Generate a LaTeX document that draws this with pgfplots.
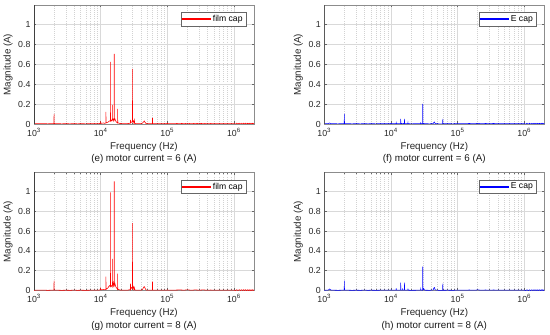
\documentclass[border=0pt]{standalone}
\usepackage{fontspec}
\setmainfont{Liberation Sans}
\usepackage{pgfplots}
\usepackage{pgfplotstable}
\pgfplotsset{compat=1.18}
\definecolor{filmred}{RGB}{255,0,0}
\definecolor{legred}{RGB}{255,80,80}
\definecolor{ecapblue}{RGB}{0,0,255}
\definecolor{legblue}{RGB}{80,80,255}

\pgfplotstableread{
f m
1000 0.002
1100 0.004
1200 0.003
1400 0.004
1600 0.002
1800 0.003
1990 0.004
2000 0.10
2010 0.004
2300 0.003
2600 0.002
3000 0.003
3500 0.002
4000 0.004
4500 0.002
5000 0.003
6000 0.002
7000 0.003
8000 0.004
9000 0.003
9900 0.006
10000 0.02
10100 0.006
11000 0.01
11500 0.006
11950 0.01
12000 0.12
12050 0.01
12500 0.015
13000 0.02
13500 0.03
13950 0.03
14000 0.62
14050 0.03
14400 0.04
14700 0.03
14950 0.04
15000 0.19
15050 0.04
15400 0.05
15700 0.03
15950 0.04
16000 0.70
16050 0.04
16400 0.05
16800 0.03
17200 0.02
17950 0.01
18000 0.15
18050 0.01
18500 0.01
19500 0.005
21000 0.004
23000 0.003
25000 0.004
27000 0.006
27800 0.01
28000 0.04
28200 0.01
29000 0.02
29950 0.02
30000 0.55
30050 0.02
31000 0.03
31500 0.01
32000 0.04
32500 0.006
35000 0.003
40000 0.004
42000 0.006
44000 0.02
45000 0.03
46000 0.02
48000 0.005
52000 0.003
56000 0.004
59700 0.003
60000 0.06
60300 0.003
65000 0.003
75000 0.004
90000 0.003
100000 0.005
120000 0.003
150000 0.006
180000 0.004
200000 0.007
230000 0.003
260000 0.006
300000 0.004
350000 0.006
400000 0.003
450000 0.005
500000 0.003
600000 0.004
700000 0.003
800000 0.004
900000 0.003
1000000 0.004
1050000 0.0
1100000 0.008
1150000 0.0
1200000 0.008
1250000 0.0
1300000 0.008
1350000 0.0
1400000 0.008
1450000 0.0
1500000 0.008
1550000 0.0
1600000 0.008
1650000 0.0
1700000 0.008
1750000 0.0
1800000 0.008
1850000 0.0
1900000 0.008
1950000 0.0
2000000 0.008
}\filmsix

\pgfplotstableread{
f m
1000 0.002
1100 0.004
1200 0.003
1400 0.004
1600 0.002
1800 0.003
1990 0.004
2000 0.10
2010 0.004
2300 0.003
2600 0.002
3000 0.003
3500 0.002
4000 0.004
4500 0.002
5000 0.003
6000 0.002
7000 0.003
8000 0.004
9000 0.003
9900 0.006
10000 0.02
10100 0.006
11000 0.01
11500 0.008
11950 0.01
12000 0.14
12050 0.01
12500 0.02
13000 0.03
13500 0.05
13950 0.04
14000 0.99
14050 0.04
14400 0.05
14700 0.04
14950 0.05
15000 0.32
15050 0.05
15400 0.08
15700 0.04
15950 0.05
16000 1.10
16050 0.05
16400 0.07
16800 0.04
17200 0.03
17950 0.01
18000 0.17
18050 0.01
18500 0.01
19500 0.005
21000 0.004
23000 0.003
25000 0.004
27000 0.006
27800 0.01
28000 0.07
28200 0.01
29000 0.03
29950 0.02
30000 0.68
30050 0.02
31000 0.04
31500 0.01
32000 0.03
32500 0.006
35000 0.003
40000 0.004
42000 0.006
44000 0.03
45000 0.04
46000 0.03
48000 0.005
52000 0.003
56000 0.004
59700 0.003
60000 0.09
60300 0.003
65000 0.003
75000 0.004
90000 0.003
100000 0.005
120000 0.003
150000 0.006
180000 0.004
200000 0.007
230000 0.003
260000 0.006
300000 0.004
350000 0.006
400000 0.003
450000 0.005
500000 0.003
600000 0.004
700000 0.003
800000 0.004
900000 0.003
1000000 0.004
1050000 0.0
1100000 0.008
1150000 0.0
1200000 0.008
1250000 0.0
1300000 0.008
1350000 0.0
1400000 0.008
1450000 0.0
1500000 0.008
1550000 0.0
1600000 0.008
1650000 0.0
1700000 0.008
1750000 0.0
1800000 0.008
1850000 0.0
1900000 0.008
1950000 0.0
2000000 0.008
}\filmeight

\pgfplotstableread{
f m
1000 0.002
1150 0.004
1200 0.01
1250 0.004
1400 0.003
1600 0.002
1800 0.003
1990 0.004
2000 0.10
2010 0.004
2300 0.003
2600 0.002
3000 0.003
3500 0.002
4000 0.004
4500 0.002
5000 0.003
6000 0.002
7000 0.003
8000 0.004
9000 0.003
10000 0.005
11000 0.003
11950 0.003
12000 0.01
12050 0.003
13000 0.004
13950 0.004
14000 0.05
14050 0.004
15000 0.006
15950 0.004
16000 0.05
16050 0.004
17000 0.003
17950 0.003
18000 0.01
18050 0.003
20000 0.002
25000 0.003
27800 0.003
28000 0.01
28200 0.003
29950 0.004
30000 0.20
30050 0.004
31000 0.006
32000 0.003
38000 0.002
43000 0.004
44000 0.015
45000 0.02
46000 0.005
52000 0.002
59700 0.002
60000 0.05
60300 0.002
70000 0.003
85000 0.002
100000 0.004
120000 0.003
150000 0.005
180000 0.003
200000 0.006
230000 0.003
260000 0.005
300000 0.004
350000 0.005
400000 0.003
450000 0.004
500000 0.003
600000 0.004
700000 0.003
800000 0.004
900000 0.003
1000000 0.004
1050000 0.0
1100000 0.007
1150000 0.0
1200000 0.007
1250000 0.0
1300000 0.007
1350000 0.0
1400000 0.007
1450000 0.0
1500000 0.007
1550000 0.0
1600000 0.007
1650000 0.0
1700000 0.007
1750000 0.0
1800000 0.007
1850000 0.0
1900000 0.007
1950000 0.0
2000000 0.007
}\ecapsix

\pgfplotstableread{
f m
1000 0.002
1150 0.005
1200 0.015
1250 0.005
1400 0.003
1600 0.002
1800 0.003
1990 0.004
2000 0.10
2010 0.004
2300 0.003
2600 0.002
3000 0.003
3500 0.002
4000 0.004
4500 0.002
5000 0.003
6000 0.002
7000 0.003
8000 0.004
9000 0.003
10000 0.005
11000 0.003
11950 0.003
12000 0.02
12050 0.003
13000 0.004
13950 0.004
14000 0.08
14050 0.004
14950 0.004
15000 0.02
15050 0.004
15950 0.004
16000 0.08
16050 0.004
17000 0.003
17950 0.003
18000 0.02
18050 0.003
20000 0.002
25000 0.003
27800 0.003
28000 0.015
28200 0.003
29950 0.004
30000 0.24
30050 0.004
31000 0.02
32000 0.003
38000 0.002
43000 0.005
44000 0.025
45000 0.03
46000 0.006
52000 0.002
59700 0.002
60000 0.07
60300 0.002
70000 0.003
85000 0.002
100000 0.004
120000 0.003
150000 0.005
180000 0.003
200000 0.006
230000 0.003
260000 0.005
300000 0.004
350000 0.005
400000 0.003
450000 0.004
500000 0.003
600000 0.004
700000 0.003
800000 0.004
900000 0.003
1000000 0.004
1050000 0.0
1100000 0.007
1150000 0.0
1200000 0.007
1250000 0.0
1300000 0.007
1350000 0.0
1400000 0.007
1450000 0.0
1500000 0.007
1550000 0.0
1600000 0.007
1650000 0.0
1700000 0.007
1750000 0.0
1800000 0.007
1850000 0.0
1900000 0.007
1950000 0.0
2000000 0.007
}\ecapeight

\pgfplotsset{
  every axis/.append style={
    scale only axis,
    width=220pt,
    xmin=1000, xmax=2000000,
    ymin=0, ymax=1.19,
    xtick={1000,10000,100000,1000000},
    xticklabels={10\textsuperscript{3},10\textsuperscript{4},10\textsuperscript{5},10\textsuperscript{6}},
    minor xtick={2000,3000,4000,5000,6000,7000,8000,9000,20000,30000,40000,50000,60000,70000,80000,90000,200000,300000,400000,500000,600000,700000,800000,900000},
    ytick={0,0.2,0.4,0.6,0.8,1},
    yticklabels={0,0.2,0.4,0.6,0.8,1},
    xmajorgrids, xminorgrids, ymajorgrids,
    major grid style={gray!30, solid, line width=0.4pt},
    minor grid style={gray!35, dash pattern=on 0.5pt off 1.6pt, line width=0.4pt},
    tick align=inside,
    major tick length=2.5pt, minor tick length=1.3pt,
    tick style={black!60, line width=0.4pt},
    axis line style={black!45, line width=0.5pt},
    tick label style={font=\fontsize{8.8}{9}\selectfont, text=black!85},
    xticklabel style={yshift=-0.5pt},
    xlabel={Frequency (Hz)},
    ylabel={Magnitude (A)},
    label style={font=\fontsize{9.8}{10}\selectfont, text=black!85},
    xlabel style={at={(axis description cs:0.5,0)}, anchor=center, yshift=-22.5pt},
    ylabel style={at={(axis description cs:-0.118,0.5)}, anchor=center},
    legend style={at={(0.965,0.94)}, anchor=north east, draw=black!60, fill=white,
      font=\fontsize{8.6}{9}\selectfont, inner xsep=1.5pt, inner ysep=1pt, line width=0.5pt},
    legend cell align=left,
  },
}

\begin{document}
\begin{tikzpicture}
\path[use as bounding box] (0,0) rectangle (550pt,335pt);

\begin{axis}[xmode=log, height=118pt, anchor=south west, name=axG, at={(34pt,44.5pt)},
  legend image code/.code={\fill[fill=filmred] (0pt,-0.4pt) rectangle (28pt,0.4pt);}]
\addplot[draw=filmred, line width=0.55pt] table[x=f, y=m] {\filmeight};
\addlegendentry{film cap}
\draw[black!75, line width=0.5pt] (rel axis cs:0,0) -- (rel axis cs:0,1);
\end{axis}
\node[font=\fontsize{9.8}{10}\selectfont, text=black!90] at ([yshift=-35.5pt]axG.south) {(g) motor current = 8 (A)};

\begin{axis}[xmode=log, height=118pt, anchor=south west, name=axH, at={(324.3pt,44.5pt)},
  legend image code/.code={\fill[fill=ecapblue] (0pt,-0.4pt) rectangle (28pt,0.4pt);}]
\addplot[draw=ecapblue, line width=0.55pt] table[x=f, y=m] {\ecapeight};
\addlegendentry{E cap}
\draw[black!75, line width=0.5pt] (rel axis cs:0,0) -- (rel axis cs:0,1);
\end{axis}
\node[font=\fontsize{9.8}{10}\selectfont, text=black!90] at ([yshift=-35.5pt]axH.south) {(h) motor current = 8 (A)};

\begin{axis}[xmode=log, height=119pt, anchor=south west, name=axE, at={(34pt,211pt)},
  legend image code/.code={\fill[fill=legred] (0pt,-0.5pt) rectangle (28pt,0.5pt);}]
\addplot[draw=filmred, line width=0.55pt] table[x=f, y=m] {\filmsix};
\addlegendentry{film cap}
\draw[black!75, line width=0.5pt] (rel axis cs:0,0) -- (rel axis cs:0,1);
\end{axis}
\node[font=\fontsize{9.8}{10}\selectfont, text=black!90] at ([yshift=-34.5pt]axE.south) {(e) motor current = 6 (A)};

\begin{axis}[xmode=log, height=119pt, anchor=south west, name=axF, at={(324.3pt,211pt)},
  legend image code/.code={\fill[fill=legblue] (0pt,-0.5pt) rectangle (28pt,0.5pt);}]
\addplot[draw=ecapblue, line width=0.55pt] table[x=f, y=m] {\ecapsix};
\addlegendentry{E cap}
\draw[black!75, line width=0.5pt] (rel axis cs:0,0) -- (rel axis cs:0,1);
\end{axis}
\node[font=\fontsize{9.8}{10}\selectfont, text=black!90] at ([yshift=-34.5pt]axF.south) {(f) motor current = 6 (A)};
\end{tikzpicture}
\end{document}
